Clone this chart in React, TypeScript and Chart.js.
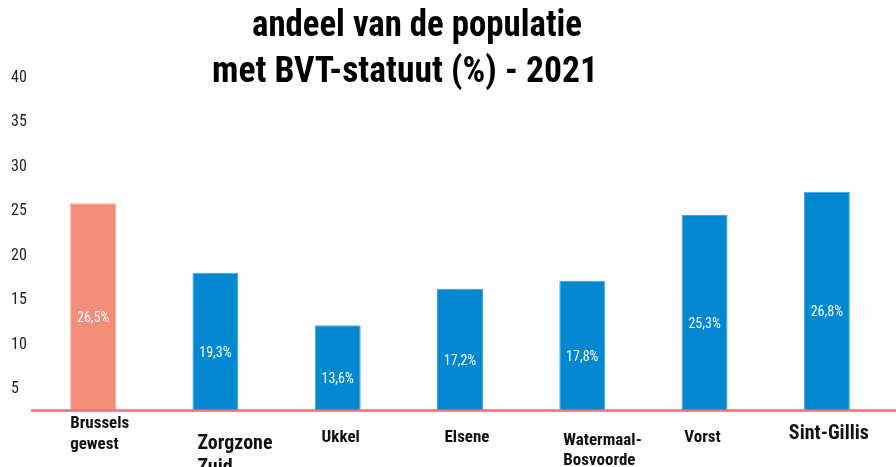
import React, { useEffect, useRef } from "react";
import { Chart, registerables } from "chart.js";

Chart.register(...registerables);

const categories: string[][] = [
  ["Brussels", "gewest"],
  ["Zorgzone", "Zuid"],
  ["Ukkel"],
  ["Elsene"],
  ["Watermaal-", "Bosvoorde"],
  ["Vorst"],
  ["Sint-Gillis"],
];
const barValues = [25.9, 18.1, 12.2, 16.3, 17.2, 24.6, 27.2];
const valueLabels = ["26,5%", "19,3%", "13,6%", "17,2%", "17,8%", "25,3%", "26,8%"];
const yTicks = [5, 10, 15, 20, 25, 30, 35, 40];
const titleLines = ["andeel van de populatie", "met BVT-statuut (%) - 2021"];

const SALMON = "#F58B79";
const BLUE = "#0288D1";
const FONT = "'Roboto Condensed', 'Liberation Sans Narrow', Roboto, sans-serif";

// per-category label styling (font size, alignment, offsets)
const labelStyles = [
  { size: 17, align: "left", dx: -23, dy: 13, lh: 21 },
  { size: 20, align: "left", dx: -18, dy: 33, lh: 24 },
  { size: 17, align: "center", dx: 3, dy: 27, lh: 20 },
  { size: 17, align: "center", dx: 7, dy: 27, lh: 20 },
  { size: 17, align: "left", dx: -19, dy: 30, lh: 20 },
  { size: 17, align: "center", dx: -2, dy: 27, lh: 20 },
  { size: 20, align: "center", dx: 2, dy: 23, lh: 24 },
];

const titlePlugin = {
  id: "customTitle",
  afterDraw(chart: any) {
    const ctx = chart.ctx;
    const specs = [
      { cx: 417, base: 36, w: 330 },
      { cx: 405, base: 82, w: 386 },
    ];
    ctx.save();
    ctx.fillStyle = "#000";
    ctx.font = `bold 36px ${FONT}`;
    ctx.textBaseline = "alphabetic";
    ctx.textAlign = "center";
    titleLines.forEach((t, i) => {
      const s = specs[i];
      const mw = ctx.measureText(t).width;
      const k = Math.min(1, s.w / mw);
      ctx.save();
      ctx.translate(s.cx, s.base);
      ctx.scale(k, 1);
      ctx.fillText(t, 0, 0);
      ctx.restore();
    });
    ctx.restore();
  },
};

const baselinePlugin = {
  id: "baseline",
  afterDatasetsDraw(chart: any) {
    const ctx = chart.ctx;
    const y = chart.chartArea.bottom;
    ctx.save();
    ctx.strokeStyle = "#E8717F";
    ctx.lineWidth = 2.5;
    ctx.beginPath();
    ctx.moveTo(31, y);
    ctx.lineTo(chart.width, y);
    ctx.stroke();
    ctx.restore();
  },
};

const valueLabelPlugin = {
  id: "valueLabels",
  afterDatasetsDraw(chart: any) {
    const ctx = chart.ctx;
    const meta = chart.getDatasetMeta(0);
    ctx.save();
    ctx.fillStyle = "#FFFFFF";
    ctx.font = `14px ${FONT}`;
    ctx.textAlign = "center";
    ctx.textBaseline = "middle";
    meta.data.forEach((el: any, i: number) => {
      ctx.fillText(valueLabels[i], el.x, (el.y + el.base) / 2);
    });
    ctx.restore();
  },
};

const xLabelPlugin = {
  id: "xLabels",
  afterDraw(chart: any) {
    const ctx = chart.ctx;
    const xs = chart.scales.x;
    const base = chart.chartArea.bottom;
    ctx.save();
    ctx.fillStyle = "#111";
    ctx.textBaseline = "middle";
    categories.forEach((lines, i) => {
      const st = labelStyles[i];
      ctx.font = `bold ${st.size}px ${FONT}`;
      ctx.textAlign = st.align;
      const x = xs.getPixelForValue(i) + st.dx;
      lines.forEach((ln, j) => {
        ctx.fillText(ln, x, base + st.dy + j * st.lh);
      });
    });
    ctx.restore();
  },
};

export default function App() {
  const ref = useRef<HTMLCanvasElement | null>(null);
  useEffect(() => {
    document.body.style.margin = "0";
    const canvas = ref.current;
    if (!canvas) return;
    const chart = new Chart(canvas, {
      type: "bar",
      data: {
        labels: categories,
        datasets: [
          {
            data: barValues,
            backgroundColor: barValues.map((_, i) => (i === 0 ? SALMON : BLUE)),
            borderColor: barValues.map((_, i) => (i === 0 ? "#F9A597" : "#3FA6DE")),
            borderWidth: 1,
            barPercentage: 0.376,
            categoryPercentage: 1,
          },
        ],
      },
      options: {
        responsive: false,
        animation: false,
        layout: { padding: { left: 11, right: 8, top: 78, bottom: 0 } },
        plugins: {
          legend: { display: false },
          title: { display: false },
          tooltip: { enabled: false },
        },
        scales: {
          x: {
            grid: { display: false },
            border: { display: false },
            ticks: { display: false },
            afterFit(scale: any) {
              scale.height = 56.5;
            },
          },
          y: {
            min: 2.6,
            max: 40,
            grid: { display: false },
            border: { display: false },
            afterBuildTicks(scale: any) {
              scale.ticks = yTicks.map((v) => ({ value: v }));
            },
            afterFit(scale: any) {
              scale.width = 21;
            },
            ticks: {
              crossAlign: "far",
              color: "#222",
              font: { family: FONT, size: 16 },
            },
          },
        },
      },
      plugins: [titlePlugin, baselinePlugin, valueLabelPlugin, xLabelPlugin],
    } as any);
    return () => chart.destroy();
  }, []);
  return (
    <div style={{ width: 896, height: 467, background: "#fff" }}>
      <canvas ref={ref} width={896} height={467} />
    </div>
  );
}
